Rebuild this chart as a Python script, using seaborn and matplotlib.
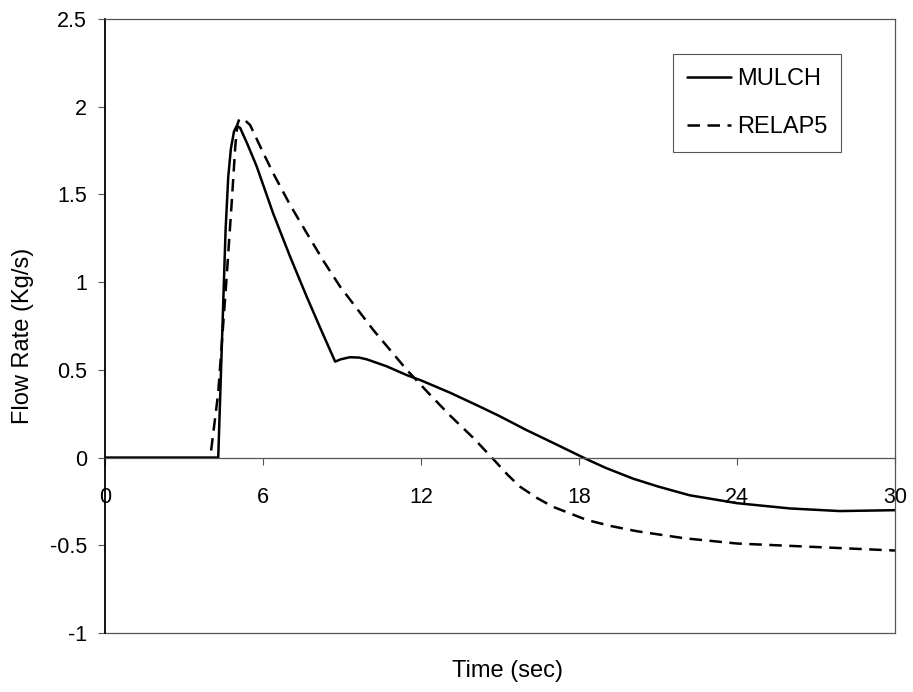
import numpy as np
import pandas as pd
import matplotlib
matplotlib.use("Agg")
import matplotlib.pyplot as plt
import seaborn as sns

# Flow rate histories from the two codes
mulch_time = [0.0, 4.3, 4.45, 4.58, 4.68, 4.78, 4.9, 5.0, 5.13, 5.4, 5.76, 6.39,
              7.03, 7.66, 8.2, 8.74, 8.95, 9.3, 9.65, 9.94, 10.7, 11.46, 12.0,
              13.1, 14.24, 15.0, 16.0, 17.0, 18.3, 19.0, 20.05, 21.0, 22.2,
              24.0, 26.0, 27.9, 30.0]
mulch_flow = [0.0, 0.0, 0.70, 1.30, 1.60, 1.76, 1.86, 1.89, 1.88, 1.79, 1.66, 1.39,
              1.145, 0.917, 0.73, 0.547, 0.56, 0.572, 0.57, 0.56, 0.52, 0.47, 0.44,
              0.37, 0.29, 0.235, 0.157, 0.085, -0.01, -0.058, -0.12, -0.165, -0.215,
              -0.26, -0.29, -0.305, -0.30]

relap_time = [4.03, 4.3, 4.62, 4.81, 4.95, 5.03, 5.1, 5.3, 5.51, 6.0, 6.39, 7.03,
              7.66, 8.3, 8.93, 10.19, 11.46, 12.3, 13.1, 14.0, 14.75, 15.3, 15.76,
              16.4, 17.0, 18.3, 19.2, 20.2, 22.0, 24.0, 27.0, 30.0]
relap_flow = [0.04, 0.37, 1.03, 1.45, 1.78, 1.90, 1.93, 1.925, 1.896, 1.74, 1.62,
              1.44, 1.28, 1.12, 0.974, 0.727, 0.50, 0.365, 0.24, 0.11, -0.01, -0.10,
              -0.166, -0.23, -0.28, -0.356, -0.39, -0.42, -0.46, -0.49, -0.51, -0.53]

x_ticks = [0, 6, 12, 18, 24, 30]
y_ticks = [-1.0, -0.5, 0.0, 0.5, 1.0, 1.5, 2.0, 2.5]
y_tick_labels = ["-1", "-0.5", "0", "0.5", "1", "1.5", "2", "2.5"]

sns.set_style("white")
plt.rcParams["font.family"] = ["Liberation Sans", "DejaVu Sans"]
plt.rcParams["text.color"] = "black"
plt.rcParams["axes.labelcolor"] = "black"
plt.rcParams["xtick.color"] = "black"
plt.rcParams["ytick.color"] = "black"

fig = plt.figure(figsize=(9.13, 6.92), dpi=100)
ax = fig.add_axes([0.115, 0.0853, 0.8653, 0.8872])

mulch = pd.DataFrame({"Time": mulch_time, "Flow": mulch_flow})
relap = pd.DataFrame({"Time": relap_time, "Flow": relap_flow})

sns.lineplot(data=mulch, x="Time", y="Flow", ax=ax, color="black", lw=1.8,
             label="MULCH", sort=False, estimator=None)
sns.lineplot(data=relap, x="Time", y="Flow", ax=ax, color="black", lw=1.8,
             linestyle=(0, (5, 3)), label="RELAP5", sort=False, estimator=None)

ax.set_xlim(0, 30)
ax.set_ylim(-1, 2.5)
ax.set_xticks(x_ticks)
ax.set_xticklabels([str(t) for t in x_ticks])
ax.set_yticks(y_ticks)
ax.set_yticklabels(y_tick_labels)

# x axis runs through zero; plot box framed separately
frame_col = "#555555"
ax.spines["bottom"].set_position(("data", 0))
ax.spines["bottom"].set_color(frame_col)
ax.spines["bottom"].set_linewidth(0.9)
for side in ("top", "right"):
    ax.spines[side].set_color(frame_col)
    ax.spines[side].set_linewidth(0.9)
ax.spines["left"].set_color("black")
ax.spines["left"].set_linewidth(1.3)
ax.plot([0, 1], [0, 0], transform=ax.transAxes, color=frame_col, lw=0.9,
        clip_on=False)

ax.tick_params(axis="x", bottom=True, direction="out", length=5, width=0.8,
               color=frame_col, pad=16, labelsize=15.5)
ax.tick_params(axis="y", left=True, direction="out", length=5, width=0.8,
               color=frame_col, pad=8, labelsize=15.5)

ax.set_xlabel("Time (sec)", fontsize=17)
ax.set_ylabel("Flow Rate (Kg/s)", fontsize=17)
ax.xaxis.set_label_coords(0.51, -0.044)
ax.yaxis.set_label_coords(-0.09, 0.484)

leg = ax.legend(loc="upper left", bbox_to_anchor=(673 / 913, 1 - 54 / 692),
                bbox_transform=fig.transFigure, frameon=True, fancybox=False,
                edgecolor=frame_col, framealpha=1, fontsize=17,
                handlelength=1.85, handletextpad=0.25, labelspacing=1.1,
                borderpad=0.6, borderaxespad=0)
leg.get_frame().set_linewidth(0.8)

fig.savefig("out.png", dpi=100, facecolor="white")
